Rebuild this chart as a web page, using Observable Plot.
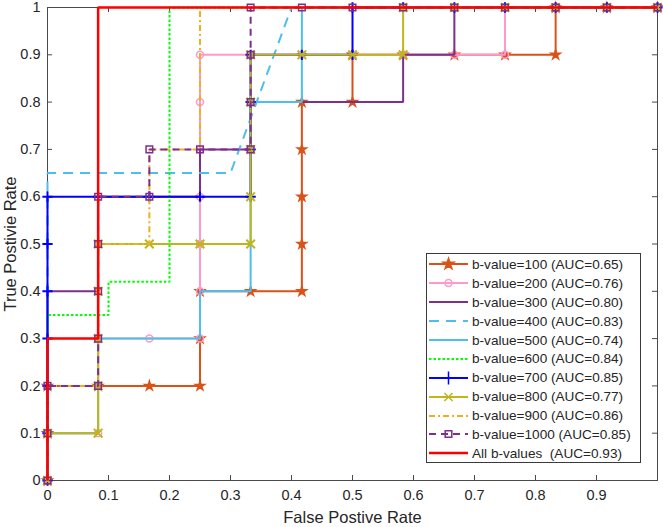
<!DOCTYPE html>
<html>
<head>
<meta charset="utf-8">
<script src="https://cdn.jsdelivr.net/npm/d3@7"></script>
<script src="https://cdn.jsdelivr.net/npm/@observablehq/plot@0.6"></script>
<style>
  html, body { margin: 0; padding: 0; background: #fff; }
  #wrap { position: relative; width: 663px; height: 527px; font-family: "Liberation Sans", Arial, Helvetica, sans-serif; color: #262626; }
  #legend { position: absolute; left: 426px; top: 253px; width: 215px; height: 210px; box-sizing: border-box; border: 1px solid #3a3a3a; background: #fff; padding-top: 1px; }
  .row { display: flex; align-items: center; height: 18.9px; font-size: 13.6px; white-space: pre; }
  .row svg { display: block; margin-left: 1px; margin-right: 3px; }
</style>
</head>
<body>
<div id="wrap"><div id="chart"></div><div id="legend"></div></div>
<script>
// ---- data ----
const labels = ["b-value=100", "b-value=200", "b-value=300", "b-value=400", "b-value=500",
                "b-value=600", "b-value=700", "b-value=800", "b-value=900", "b-value=1000", "All b-values "];
const aucs = ["0.65", "0.76", "0.80", "0.83", "0.74", "0.84", "0.85", "0.77", "0.86", "0.85", "0.93"];

const fpr100 = [0, 0, 0, 0.083, 0.167, 0.25, 0.25, 0.25, 0.333, 0.417, 0.417, 0.417, 0.417, 0.417, 0.5, 0.5, 0.583, 0.667, 0.75, 0.833, 0.833, 0.917, 1];
const tpr100 = [0, 0.1, 0.2, 0.2, 0.2, 0.2, 0.3, 0.4, 0.4, 0.4, 0.5, 0.6, 0.7, 0.8, 0.8, 0.9, 0.9, 0.9, 0.9, 0.9, 1, 1, 1];

const fpr200 = [0, 0, 0.083, 0.083, 0.083, 0.167, 0.25, 0.25, 0.25, 0.25, 0.25, 0.25, 0.25, 0.333, 0.417, 0.5, 0.583, 0.667, 0.75, 0.75, 0.833, 0.917, 1];
const tpr200 = [0, 0.1, 0.1, 0.2, 0.3, 0.3, 0.3, 0.4, 0.5, 0.6, 0.7, 0.8, 0.9, 0.9, 0.9, 0.9, 0.9, 0.9, 0.9, 1, 1, 1, 1];

const fpr300 = [0, 0, 0.083, 0.083, 0.25, 0.25, 0.333, 0.333, 0.583, 0.583, 0.667, 0.667, 1];
const tpr300 = [0, 0.4, 0.4, 0.6, 0.6, 0.7, 0.7, 0.8, 0.8, 0.9, 0.9, 1, 1];

const fpr400 = [0, 0, 0.3, 0.4, 1];
const tpr400 = [0, 0.65, 0.65, 1, 1];

const fpr500 = [0, 0, 0.083, 0.083, 0.25, 0.25, 0.333, 0.333, 0.417, 0.417, 1];
const tpr500 = [0, 0.1, 0.1, 0.3, 0.3, 0.4, 0.4, 0.8, 0.8, 1, 1];

const fpr600 = [0, 0, 0.1, 0.1, 0.2, 0.2, 1];
const tpr600 = [0, 0.35, 0.35, 0.42, 0.42, 1, 1];

const fpr700 = [0, 0, 0, 0, 0, 0, 0, 0.083, 0.167, 0.25, 0.333, 0.333, 0.333, 0.333, 0.417, 0.5, 0.5, 0.583, 0.667, 0.75, 0.833, 0.917, 1];
const tpr700 = [0, 0.1, 0.2, 0.3, 0.4, 0.5, 0.6, 0.6, 0.6, 0.6, 0.6, 0.7, 0.8, 0.9, 0.9, 0.9, 1, 1, 1, 1, 1, 1, 1];

const fpr800 = [0, 0, 0.083, 0.083, 0.083, 0.083, 0.083, 0.167, 0.25, 0.333, 0.333, 0.333, 0.333, 0.333, 0.417, 0.5, 0.583, 0.583, 0.667, 0.75, 0.833, 0.917, 1];
const tpr800 = [0, 0.1, 0.1, 0.2, 0.3, 0.4, 0.5, 0.5, 0.5, 0.5, 0.6, 0.7, 0.8, 0.9, 0.9, 0.9, 0.9, 1, 1, 1, 1, 1, 1];

const fpr900 = [0, 0, 0.083, 0.083, 0.167, 0.167, 0.25, 0.25, 1];
const tpr900 = [0, 0.2, 0.2, 0.5, 0.5, 0.7, 0.7, 1, 1];

const fpr1000 = [0, 0, 0, 0.083, 0.083, 0.083, 0.083, 0.083, 0.167, 0.167, 0.25, 0.333, 0.333, 0.333, 0.333, 0.417, 0.5, 0.583, 0.667, 0.75, 0.833, 0.917, 1];
const tpr1000 = [0, 0.1, 0.2, 0.2, 0.3, 0.4, 0.5, 0.6, 0.6, 0.7, 0.7, 0.7, 0.8, 0.9, 1, 1, 1, 1, 1, 1, 1, 1, 1];

const fprAll = [0, 0, 0.083, 0.083, 1];
const tprAll = [0, 0.3, 0.3, 1, 1];

const xTicks = [0, 0.1, 0.2, 0.3, 0.4, 0.5, 0.6, 0.7, 0.8, 0.9];
const yTicks = [0, 0.1, 0.2, 0.3, 0.4, 0.5, 0.6, 0.7, 0.8, 0.9, 1];
const xTitle = "False Postive Rate";
const yTitle = "True Postivie Rate";

// ---- styles (kept apart from data) ----
const styles = [
  {color: "#D95319", width: 2,   dash: null,      symbol: "star",    r: 2.9, lr: 3.4, filled: true},
  {color: "#FF99CC", width: 2,   dash: null,      symbol: "circle",  r: 3.5, lr: 3.5, filled: false},
  {color: "#7E2F8E", width: 2,   dash: null,      symbol: null},
  {color: "#4DBEEE", width: 2,   dash: "10,7",    symbol: null},
  {color: "#4DBEEE", width: 2,   dash: null,      symbol: null},
  {color: "#00FF00", width: 2,   dash: "2.5,2",   symbol: null},
  {color: "#0000FF", width: 2,   dash: null,      symbol: "plus",    r: 3.4, lr: 4.2, filled: false},
  {color: "#BDB61C", width: 2,   dash: null,      symbol: "times",   r: 4.0, lr: 3.8, filled: false},
  {color: "#EDB120", width: 2,   dash: "6,3,2,3", symbol: null},
  {color: "#7E2F8E", width: 2,   dash: "7,5",     symbol: "square2", r: 4.2, lr: 4.2, filled: false},
  {color: "#FF0000", width: 2.5, dash: null,      symbol: null}
];

const series = [
  [fpr100, tpr100], [fpr200, tpr200], [fpr300, tpr300], [fpr400, tpr400], [fpr500, tpr500],
  [fpr600, tpr600], [fpr700, tpr700], [fpr800, tpr800], [fpr900, tpr900], [fpr1000, tpr1000], [fprAll, tprAll]
];

const axisColor = "#4a4a4a";
const W = 663, H = 527, mL = 47, mR = 6, mT = 7, mB = 47;
const fw = W - mL - mR, fh = H - mT - mB, tl = 5;

const marks = [
  Plot.frame({stroke: axisColor, strokeWidth: 1}),
  Plot.tickX(xTicks.slice(1), {x: d => d, insetTop: fh - tl, stroke: axisColor}),
  Plot.tickX(xTicks.slice(1), {x: d => d, insetBottom: fh - tl, stroke: axisColor}),
  Plot.tickY(yTicks.slice(1, -1), {y: d => d, insetRight: fw - tl, stroke: axisColor}),
  Plot.tickY(yTicks.slice(1, -1), {y: d => d, insetLeft: fw - tl, stroke: axisColor}),
  Plot.axisX({ticks: xTicks, tickSize: 0, tickPadding: 9, tickFormat: d => `${d}`, label: null, fontSize: 14.5}),
  Plot.axisY({ticks: yTicks, tickSize: 0, tickPadding: 7, tickFormat: d => `${d}`, label: null, fontSize: 14.5}),
  Plot.text([xTitle], {text: d => d, frameAnchor: "bottom", textAnchor: "middle", lineAnchor: "middle", dy: 37, fontSize: 16.5, fill: "#262626"}),
  Plot.text([yTitle], {text: d => d, frameAnchor: "left", textAnchor: "middle", lineAnchor: "middle", rotate: -90, dx: -37, fontSize: 16.5, fill: "#262626"})
];

series.forEach(([fpr, tpr], i) => {
  const st = styles[i];
  const pts = fpr.map((x, j) => ({x, y: tpr[j]}));
  marks.push(Plot.line(pts, {x: "x", y: "y", stroke: st.color, strokeWidth: st.width,
    strokeDasharray: st.dash, strokeLinejoin: "miter", strokeLinecap: "butt"}));
  if (st.symbol) {
    marks.push(Plot.dot(pts, {x: "x", y: "y", symbol: st.symbol, r: st.r,
      stroke: st.color, fill: st.filled ? st.color : "none", strokeWidth: st.symbol === "plus" || st.symbol === "times" ? 2 : 1.5}));
  }
});

const chart = Plot.plot({
  width: W, height: H,
  marginLeft: mL, marginRight: mR, marginTop: mT, marginBottom: mB,
  x: {domain: [0, 1]},
  y: {domain: [0, 1]},
  style: {fontFamily: '"Liberation Sans", Arial, Helvetica, sans-serif', fontSize: "14.5px", color: "#262626", background: "#fff", overflow: "visible"},
  marks
});
document.getElementById("chart").appendChild(chart);

// ---- legend ----
const symbolMap = {star: d3.symbolStar, circle: d3.symbolCircle, plus: d3.symbolPlus, times: d3.symbolTimes, square2: d3.symbolSquare2};
const legend = d3.select("#legend");
labels.forEach((lab, i) => {
  const st = styles[i];
  const row = legend.append("div").attr("class", "row");
  const svg = row.append("svg").attr("width", 41).attr("height", 18);
  svg.append("line").attr("x1", 1).attr("x2", 40).attr("y1", 9).attr("y2", 9)
    .attr("stroke", st.color).attr("stroke-width", st.width)
    .attr("stroke-dasharray", st.dash);
  if (st.symbol) {
    svg.append("path").attr("transform", "translate(20.5,9)")
      .attr("d", d3.symbol(symbolMap[st.symbol], Math.PI * st.lr * st.lr)())
      .attr("stroke", st.color).attr("stroke-width", 1.5)
      .attr("fill", st.filled ? st.color : "none");
  }
  row.append("span").text(`${lab} (AUC=${aucs[i]})`);
});
</script>
</body>
</html>
